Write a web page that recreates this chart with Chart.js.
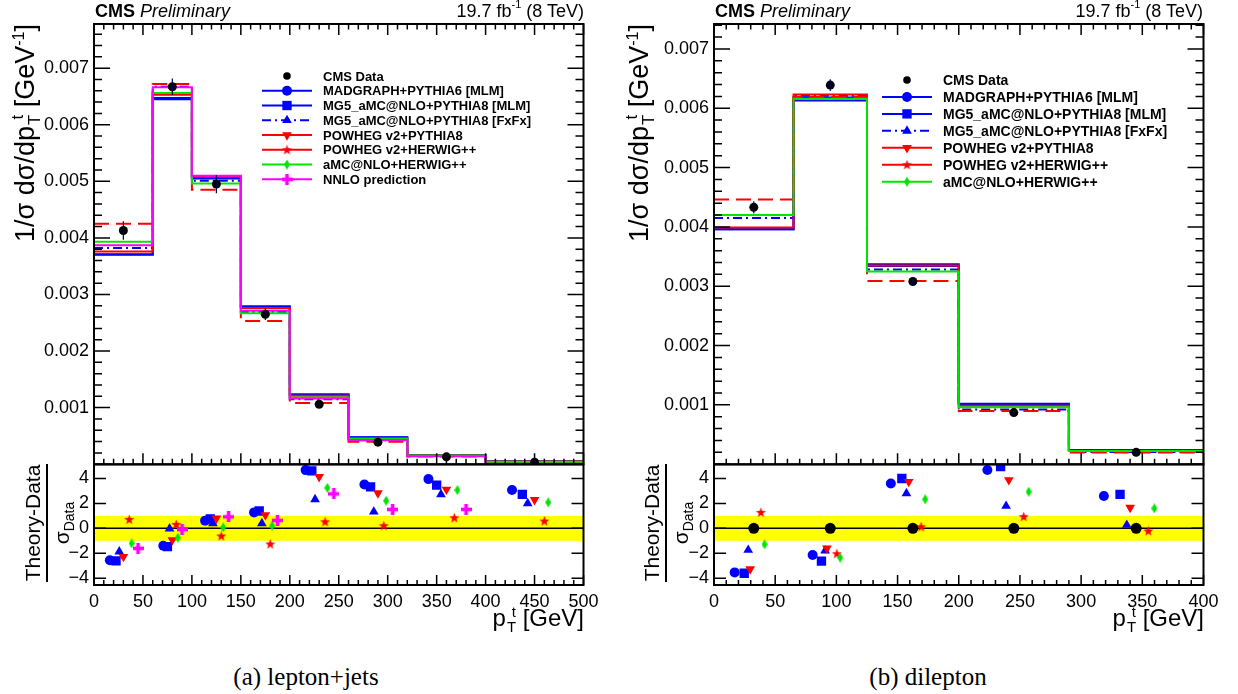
<!DOCTYPE html>
<html>
<head>
<meta charset="utf-8">
<script src="https://cdn.jsdelivr.net/npm/chart.js@4.4.1/dist/chart.umd.min.js"></script>
<style>
  body { margin: 0; background: #fff; }
  #page { position: relative; width: 1238px; height: 694px; overflow: hidden; background: #fff;
          font-family: 'Liberation Sans', Arial, sans-serif; color: #000; }
  canvas { position: absolute; }
  .hdr { position: absolute; font-size: 18px; line-height: 20px; white-space: nowrap; }
  .hdr sup { font-size: 11px; line-height: 0; position: relative; top: -0.2em; vertical-align: super; }
  .ytitle { position: absolute; width: 440px; height: 32px; line-height: 32px; font-size: 27px;
            text-align: right; white-space: nowrap; transform: rotate(-90deg); transform-origin: 50% 50%; }
  .xtitle { position: absolute; font-size: 24px; line-height: 28px; white-space: nowrap; text-align: right; }
  .ss { display: inline-block; font-size: 0.62em; line-height: 1em; vertical-align: -6px; margin-left: 1px; }
  .ss span { display: block; }
  .yt sup { font-size: 16px; line-height: 0; vertical-align: 10px; }
  .frac { position: absolute; width: 118px; transform: rotate(-90deg); transform-origin: 50% 50%;
          text-align: center; font-size: 21px; white-space: nowrap; }
  .frac .num { height: 26px; line-height: 26px; border-bottom: 2px solid #000; }
  .frac .den { height: 28px; line-height: 28px; }
  .frac sub { font-size: 14px; line-height: 0; vertical-align: -5px; }
  .cap { position: absolute; width: 400px; text-align: center; font-family: 'Liberation Serif', 'DejaVu Serif', serif;
         font-size: 25px; line-height: 30px; white-space: nowrap; }
</style>
</head>
<body>
<div id="page">
  <canvas id="ljTop" width="610" height="480" style="left:0;top:0"></canvas>
  <canvas id="ljRatio" width="610" height="200" style="left:0;top:440px"></canvas>
  <canvas id="dlTop" width="610" height="480" style="left:620px;top:0"></canvas>
  <canvas id="dlRatio" width="610" height="200" style="left:620px;top:440px"></canvas>

  <div class="hdr" style="left:95px;top:1px"><b>CMS</b> <i>Preliminary</i></div>
  <div class="hdr" style="right:654px;top:1px">19.7 fb<sup>-1</sup> (8 TeV)</div>
  <div class="hdr" style="left:715px;top:1px"><b>CMS</b> <i>Preliminary</i></div>
  <div class="hdr" style="right:35px;top:1px">19.7 fb<sup>-1</sup> (8 TeV)</div>

  <div class="ytitle yt" style="left:-195px;top:228px">1/σ dσ/dp<span class="ss"><span>t</span><span>T</span></span> [GeV<sup>-1</sup>]</div>
  <div class="ytitle yt" style="left:419px;top:228px">1/σ dσ/dp<span class="ss"><span>t</span><span>T</span></span> [GeV<sup>-1</sup>]</div>

  <div class="frac" style="left:-11px;top:495px"><div class="num">Theory-Data</div><div class="den">σ<sub>Data</sub></div></div>
  <div class="frac" style="left:608px;top:495px"><div class="num">Theory-Data</div><div class="den">σ<sub>Data</sub></div></div>

  <div class="xtitle" style="right:654px;top:604px">p<span class="ss"><span>t</span><span>T</span></span> [GeV]</div>
  <div class="xtitle" style="right:34px;top:604px">p<span class="ss"><span>t</span><span>T</span></span> [GeV]</div>

  <div class="cap" style="left:106px;top:662px">(a) lepton+jets</div>
  <div class="cap" style="left:728px;top:662px">(b) dilepton</div>
</div>
<script>
// ---- lepton+jets ----
const LJ_EDGES = [0, 60, 100, 150, 200, 260, 320, 400, 500];
const LJ_DATA = [0.00413, 0.00667, 0.00495, 0.00265, 0.00106, 0.00039, 0.00013, 0.000035];
const LJ_ERR = [0.000165, 0.000147, 0.00016, 0.0001, 0.000037, 0.000025, 0.000008, 0.000005];
const LJ_MADGRAPH = [0.00371, 0.00647, 0.00505, 0.00278, 0.00123, 0.000478, 0.000162, 0.00005];
const LJ_MG5_MLM = [0.0037, 0.00645, 0.00507, 0.00279, 0.00123, 0.000473, 0.000158, 0.0000486];
const LJ_MG5_FXFX = [0.00382, 0.00667, 0.00501, 0.00269, 0.00115, 0.000423, 0.000152, 0.000045];
const LJ_POWHEG_P8 = [0.00376, 0.00653, 0.00508, 0.00276, 0.00121, 0.000461, 0.000155, 0.0000465];
const LJ_POWHEG_HW = [0.00425, 0.00672, 0.00485, 0.00253, 0.00108, 0.000395, 0.000137, 0.000038];
const LJ_AMC_HW = [0.00393, 0.00656, 0.00496, 0.00267, 0.00118, 0.000445, 0.000155, 0.0000454];
const LJ_NNLO = [0.00387, 0.00666, 0.0051, 0.00271, 0.00116, 0.000428, 0.000142, 0];

const LJ_PULL_MADGRAPH = [-2.55, -1.4, 0.62, 1.28, 4.67, 3.52, 3.95, 3.07];
const LJ_PULL_MG5_MLM = [-2.6, -1.47, 0.75, 1.39, 4.61, 3.33, 3.47, 2.72];
const LJ_PULL_MG5_FXFX = [-1.87, -0.02, 0.4, 0.4, 2.32, 1.33, 2.72, 2.0];
const LJ_PULL_POWHEG_P8 = [-2.27, -0.93, 0.8, 1.07, 4.13, 2.83, 3.12, 2.29];
const LJ_PULL_POWHEG_HW = [0.72, 0.32, -0.61, -1.25, 0.53, 0.21, 0.85, 0.59];
const LJ_PULL_AMC_HW = [-1.2, -0.75, 0.08, 0.21, 3.25, 2.21, 3.07, 2.08];
const LJ_PULL_NNLO = [-1.6, -0.1, 0.93, 0.64, 2.77, 1.52, 1.52, null];

// ---- dilepton ----
const DL_EDGES = [0, 65, 125, 200, 290, 400];
const DL_DATA = [0.00433, 0.00639, 0.00308, 0.00087, 0.0002];
const DL_ERR = [0.000104, 0.0001, 0.000073, 0.00003, 0.000015];
const DL_MADGRAPH = [0.00396, 0.00618, 0.00334, 0.00101, 0.000239];
const DL_MG5_MLM = [0.00396, 0.00613, 0.00337, 0.00102, 0.000241];
const DL_MG5_FXFX = [0.00415, 0.00621, 0.00328, 0.000924, 0.000204];
const DL_POWHEG_P8 = [0.00399, 0.00623, 0.00335, 0.000986, 0.000225];
const DL_POWHEG_HW = [0.00446, 0.00619, 0.00309, 0.000898, 0.000197];
const DL_AMC_HW = [0.0042, 0.00616, 0.00325, 0.000958, 0.000224];

const DL_PULL_DATA = [0, 0, 0, 0, 0];
const DL_PULL_MADGRAPH = [-3.53, -2.14, 3.6, 4.68, 2.59];
const DL_PULL_MG5_MLM = [-3.6, -2.62, 4.0, 4.95, 2.73];
const DL_PULL_MG5_FXFX = [-1.74, -1.79, 2.8, 1.79, 0.27];
const DL_PULL_POWHEG_P8 = [-3.26, -1.6, 3.74, 3.88, 1.66];
const DL_PULL_POWHEG_HW = [1.28, -2.03, 0.13, 0.94, -0.21];
const DL_PULL_AMC_HW = [-1.28, -2.35, 2.33, 2.94, 1.6];

// tick labels
const TOP_Y_TICKS = [0.001, 0.002, 0.003, 0.004, 0.005, 0.006, 0.007];
const PULL_Y_TICKS = [-4, -2, 0, 2, 4];

const LABELS = {
  data: "CMS Data",
  mad: "MADGRAPH+PYTHIA6 [MLM]",
  mg5: "MG5_aMC@NLO+PYTHIA8 [MLM]",
  fxfx: "MG5_aMC@NLO+PYTHIA8 [FxFx]",
  p8: "POWHEG v2+PYTHIA8",
  hw: "POWHEG v2+HERWIG++",
  amc: "aMC@NLO+HERWIG++",
  nnlo: "NNLO prediction",
};

const FAMILY = "'Liberation Sans', Arial, sans-serif";
Chart.defaults.font.family = FAMILY;
Chart.defaults.color = "#000";

function markerCanvas(w, h, draw) {
  const c = document.createElement("canvas");
  c.width = w;
  c.height = h;
  draw(c.getContext("2d"), w, h);
  return c;
}
const STAR = markerCanvas(11, 11, (g) => {
  g.fillStyle = "#ff0000";
  g.beginPath();
  for (let k = 0; k < 10; k++) {
    const r = k % 2 ? 2.2 : 5.3;
    const a = -Math.PI / 2 + (k * Math.PI) / 5;
    g.lineTo(5.5 + r * Math.cos(a), 5.9 + r * Math.sin(a));
  }
  g.closePath();
  g.fill();
});
const DIAMOND = markerCanvas(6, 10, (g) => {
  g.fillStyle = "#00e600";
  g.beginPath();
  g.moveTo(3, 0);
  g.lineTo(6, 5);
  g.lineTo(3, 10);
  g.lineTo(0, 5);
  g.closePath();
  g.fill();
});
const PLUS = markerCanvas(11, 11, (g) => {
  g.fillStyle = "#ff00ff";
  g.fillRect(0, 3.7, 11, 3.6);
  g.fillRect(3.7, 0, 3.6, 11);
});

const STYLE = {
  data: { color: "#000000", marker: "circle", radius: 4.5 },
  mad: { color: "#0000ff", dash: [], marker: "circle", radius: 5 },
  mg5: { color: "#0000ff", dash: [], marker: "rect", radius: 6.6 },
  fxfx: { color: "#0000ff", dash: [9, 4, 2, 4], marker: "triangle", radius: 5.6 },
  p8: { color: "#ff0000", dash: [], marker: "triangle", rotation: 180, radius: 5.6 },
  hw: { color: "#ff0000", dash: [15, 7], legendDash: [], marker: STAR, radius: 5 },
  amc: { color: "#00e600", dash: [], marker: DIAMOND, radius: 5 },
  nnlo: { color: "#ff00ff", dash: [], marker: PLUS, radius: 5 },
};

// ROOT-like frame with inward ticks on the chosen sides
const rootFrame = {
  id: "rootFrame",
  afterDraw(chart, args, o) {
    const { ctx, chartArea: a } = chart;
    const xs = chart.scales.x, ys = chart.scales.y;
    const marks = (s, step) => {
      const out = [];
      for (let i = Math.ceil(s.min / step - 1e-6); i <= Math.floor(s.max / step + 1e-6); i++) out.push(i * step);
      return out;
    };
    ctx.save();
    ctx.strokeStyle = "#000";
    ctx.lineWidth = 1.5;
    ctx.beginPath();
    [[o.xMinor, o.xLen[1]], [o.xMajor, o.xLen[0]]].forEach(([step, len]) => {
      if (!step) return;
      marks(xs, step).forEach((v) => {
        const px = xs.getPixelForValue(v);
        if (o.bottom) { ctx.moveTo(px, a.bottom); ctx.lineTo(px, a.bottom - len); }
        if (o.top) { ctx.moveTo(px, a.top); ctx.lineTo(px, a.top + len); }
      });
    });
    [[o.yMinor, o.yLen[1]], [o.yMajor, o.yLen[0]]].forEach(([step, len]) => {
      if (!step) return;
      marks(ys, step).forEach((v) => {
        const py = ys.getPixelForValue(v);
        ctx.moveTo(a.left, py); ctx.lineTo(a.left + len, py);
        ctx.moveTo(a.right, py); ctx.lineTo(a.right - len, py);
      });
    });
    ctx.stroke();
    ctx.lineWidth = 2;
    ctx.strokeRect(a.left, a.top, a.right - a.left, a.bottom - a.top);
    ctx.restore();
  },
};

// yellow +-1 sigma band and the zero line of the pull panels
const sigmaBand = {
  id: "sigmaBand",
  beforeDatasetsDraw(chart) {
    const { ctx, chartArea: a } = chart;
    const ys = chart.scales.y;
    ctx.save();
    ctx.fillStyle = "#ffff00";
    const top = ys.getPixelForValue(1), bot = ys.getPixelForValue(-1);
    ctx.fillRect(a.left, top, a.right - a.left, bot - top);
    ctx.strokeStyle = "#000";
    ctx.lineWidth = 1.5;
    ctx.beginPath();
    ctx.moveTo(a.left, ys.getPixelForValue(0));
    ctx.lineTo(a.right, ys.getPixelForValue(0));
    ctx.stroke();
    ctx.restore();
  },
};

const errorBars = {
  id: "errorBars",
  afterDatasetsDraw(chart, args, o) {
    const { ctx } = chart;
    const ys = chart.scales.y;
    const meta = chart.getDatasetMeta(o.dataset);
    const ds = chart.data.datasets[o.dataset];
    ctx.save();
    ctx.strokeStyle = "#000050";
    ctx.lineWidth = 1.2;
    ctx.beginPath();
    meta.data.forEach((pt, i) => {
      const v = ds.data[i].y, e = o.errors[i];
      ctx.moveTo(pt.x, ys.getPixelForValue(v + e));
      ctx.lineTo(pt.x, ys.getPixelForValue(v - e));
    });
    ctx.stroke();
    ctx.restore();
  },
};

const rootLegend = {
  id: "rootLegend",
  afterDraw(chart, args, o) {
    const { ctx } = chart;
    ctx.save();
    ctx.font = "bold " + o.size + "px " + FAMILY;
    ctx.textBaseline = "middle";
    o.keys.forEach((key, i) => {
      const st = STYLE[key];
      const y = o.y0 + i * o.dy;
      const xm = (o.x0 + o.x1) / 2;
      if (key !== "data") {
        ctx.strokeStyle = st.color;
        ctx.lineWidth = 2;
        ctx.setLineDash(st.legendDash || st.dash);
        ctx.beginPath();
        ctx.moveTo(o.x0, y);
        ctx.lineTo(o.x1, y);
        ctx.stroke();
        ctx.setLineDash([]);
      }
      ctx.fillStyle = st.color;
      Chart.helpers.drawPoint(ctx, { pointStyle: st.marker, radius: key === "data" ? 3.8 : st.radius,
        rotation: st.rotation || 0, borderWidth: 0 }, xm, y);
      ctx.fillStyle = "#000";
      ctx.fillText(LABELS[key], o.textX, y + 1);
    });
    ctx.restore();
  },
};

function histDataset(key, edges, vals, order) {
  const st = STYLE[key];
  return {
    label: LABELS[key],
    order,
    showLine: true,
    stepped: true,
    data: edges.map((e, i) => ({ x: e, y: vals[Math.min(i, vals.length - 1)] })),
    borderColor: st.color,
    borderWidth: 2,
    borderDash: st.dash,
    pointRadius: 0,
    pointHoverRadius: 0,
    fill: false,
  };
}

function dataDataset(edges, vals) {
  return {
    label: LABELS.data,
    order: 0,
    data: vals.map((v, i) => ({ x: (edges[i] + edges[i + 1]) / 2, y: v })),
    pointStyle: "circle",
    pointRadius: STYLE.data.radius,
    backgroundColor: "#000",
    borderWidth: 0,
  };
}

function pullDataset(key, edges, pulls, frac, order) {
  const st = STYLE[key];
  return {
    label: LABELS[key],
    order,
    data: pulls
      .map((v, i) => (v == null ? null : { x: edges[i] + frac * (edges[i + 1] - edges[i]), y: v }))
      .filter(Boolean),
    pointStyle: st.marker,
    pointRadius: key === "data" ? 5.5 : st.radius,
    rotation: st.rotation || 0,
    backgroundColor: st.color,
    borderWidth: 0,
  };
}

function topOptions(xMax, yMax, legend, errors) {
  return {
    responsive: false,
    animation: false,
    events: [],
    layout: { padding: { left: 0, right: 26.5, top: 24, bottom: 15.5 } },
    scales: {
      x: { type: "linear", min: 0, max: xMax, display: false },
      y: {
        type: "linear",
        min: 0,
        max: yMax,
        grid: { display: false, drawTicks: false },
        border: { display: false },
        afterFit: (s) => { s.width = 94; },
        afterBuildTicks: (s) => { s.ticks = TOP_Y_TICKS.map((value) => ({ value })); },
        ticks: { padding: 5, color: "#000", font: { size: 18 }, callback: (v) => v.toFixed(3) },
      },
    },
    plugins: {
      legend: { display: false },
      tooltip: { enabled: false },
      rootFrame: { xMajor: 50, xMinor: 10, yMajor: 0.001, yMinor: 0.0002, xLen: [11, 5.5], yLen: [16, 8], top: true, bottom: true },
      rootLegend: legend,
      errorBars: { dataset: 0, errors },
    },
  };
}

function ratioOptions(xMax) {
  return {
    responsive: false,
    animation: false,
    events: [],
    layout: { padding: { left: 0, right: 26.5, top: 24.5, bottom: 0 } },
    scales: {
      x: {
        type: "linear",
        min: 0,
        max: xMax,
        grid: { display: false, drawTicks: false },
        border: { display: false },
        afterFit: (s) => { s.height = 55; },
        ticks: { stepSize: 50, autoSkip: false, maxRotation: 0, padding: 6, color: "#000", font: { size: 18 } },
      },
      y: {
        type: "linear",
        min: -4.54,
        max: 5.12,
        grid: { display: false, drawTicks: false },
        border: { display: false },
        afterFit: (s) => { s.width = 94; },
        afterBuildTicks: (s) => { s.ticks = PULL_Y_TICKS.map((value) => ({ value })); },
        ticks: { padding: 5, color: "#000", font: { size: 18 },
          callback: (v) => String(Math.round(v)).replace("-", "\u2212") },
      },
    },
    plugins: {
      legend: { display: false },
      tooltip: { enabled: false },
      rootFrame: { xMajor: 50, xMinor: 10, yMajor: 2, yMinor: 0, xLen: [10, 5], yLen: [12, 6], top: false, bottom: true },
    },
  };
}

// lepton+jets, main panel
new Chart(document.getElementById("ljTop"), {
  type: "scatter",
  data: {
    datasets: [
      dataDataset(LJ_EDGES, LJ_DATA),
      histDataset("mad", LJ_EDGES, LJ_MADGRAPH, 7),
      histDataset("mg5", LJ_EDGES, LJ_MG5_MLM, 6),
      histDataset("fxfx", LJ_EDGES, LJ_MG5_FXFX, 5),
      histDataset("p8", LJ_EDGES, LJ_POWHEG_P8, 4),
      histDataset("hw", LJ_EDGES, LJ_POWHEG_HW, 3),
      histDataset("amc", LJ_EDGES, LJ_AMC_HW, 2),
      histDataset("nnlo", LJ_EDGES, LJ_NNLO, 1),
    ],
  },
  options: topOptions(500, 0.00778,
    { keys: ["data", "mad", "mg5", "fxfx", "p8", "hw", "amc", "nnlo"], x0: 262, x1: 312, textX: 323, y0: 76, dy: 14.76, size: 13 },
    LJ_ERR),
  plugins: [rootFrame, errorBars, rootLegend],
});

// lepton+jets, pulls
new Chart(document.getElementById("ljRatio"), {
  type: "scatter",
  data: {
    datasets: [
      pullDataset("mad", LJ_EDGES, LJ_PULL_MADGRAPH, 0.27, 7),
      pullDataset("mg5", LJ_EDGES, LJ_PULL_MG5_MLM, 0.375, 6),
      pullDataset("fxfx", LJ_EDGES, LJ_PULL_MG5_FXFX, 0.43, 5),
      pullDataset("p8", LJ_EDGES, LJ_PULL_POWHEG_P8, 0.5, 4),
      pullDataset("hw", LJ_EDGES, LJ_PULL_POWHEG_HW, 0.6, 3),
      pullDataset("amc", LJ_EDGES, LJ_PULL_AMC_HW, 0.64, 2),
      pullDataset("nnlo", LJ_EDGES, LJ_PULL_NNLO, 0.75, 1),
    ],
  },
  options: ratioOptions(500),
  plugins: [sigmaBand, rootFrame],
});

// dilepton, main panel
new Chart(document.getElementById("dlTop"), {
  type: "scatter",
  data: {
    datasets: [
      dataDataset(DL_EDGES, DL_DATA),
      histDataset("mad", DL_EDGES, DL_MADGRAPH, 7),
      histDataset("mg5", DL_EDGES, DL_MG5_MLM, 6),
      histDataset("fxfx", DL_EDGES, DL_MG5_FXFX, 5),
      histDataset("p8", DL_EDGES, DL_POWHEG_P8, 4),
      histDataset("hw", DL_EDGES, DL_POWHEG_HW, 3),
      histDataset("amc", DL_EDGES, DL_AMC_HW, 2),
    ],
  },
  options: topOptions(400, 0.00742,
    { keys: ["data", "mad", "mg5", "fxfx", "p8", "hw", "amc"], x0: 262, x1: 312, textX: 323, y0: 80, dy: 16.95, size: 14 },
    DL_ERR),
  plugins: [rootFrame, errorBars, rootLegend],
});

// dilepton, pulls
new Chart(document.getElementById("dlRatio"), {
  type: "scatter",
  data: {
    datasets: [
      pullDataset("data", DL_EDGES, DL_PULL_DATA, 0.5, 0),
      pullDataset("mad", DL_EDGES, DL_PULL_MADGRAPH, 0.26, 7),
      pullDataset("mg5", DL_EDGES, DL_PULL_MG5_MLM, 0.38, 6),
      pullDataset("fxfx", DL_EDGES, DL_PULL_MG5_FXFX, 0.43, 5),
      pullDataset("p8", DL_EDGES, DL_PULL_POWHEG_P8, 0.455, 4),
      pullDataset("hw", DL_EDGES, DL_PULL_POWHEG_HW, 0.59, 3),
      pullDataset("amc", DL_EDGES, DL_PULL_AMC_HW, 0.635, 2),
    ],
  },
  options: ratioOptions(400),
  plugins: [sigmaBand, rootFrame],
});
</script>
</body>
</html>
